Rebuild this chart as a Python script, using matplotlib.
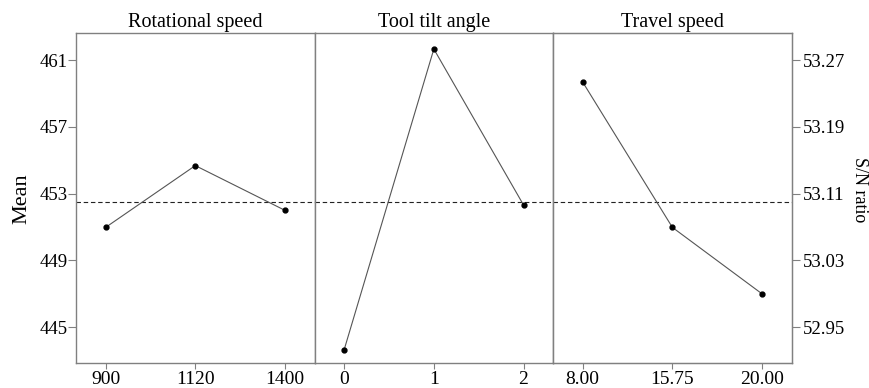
import matplotlib
matplotlib.use("Agg")
import matplotlib.pyplot as plt

# Main effects for means
factors = ["Rotational speed", "Tool tilt angle", "Travel speed"]
levels = [
    ["900", "1120", "1400"],
    ["0", "1", "2"],
    ["8.00", "15.75", "20.00"],
]
means = [
    [450.98, 454.68, 452.00],
    [443.66, 461.66, 452.32],
    [459.68, 450.98, 447.00],
]
grand_mean = 452.52

mean_ticks = [445, 449, 453, 457, 461]
sn_ticks = [52.95, 53.03, 53.11, 53.19, 53.27]

plt.rcParams["font.family"] = ["Liberation Serif", "DejaVu Serif"]

fig, axes = plt.subplots(1, 3, figsize=(8.69, 3.88), dpi=100, sharey=True)
fig.subplots_adjust(left=0.0875, right=0.911, top=0.9137, bottom=0.0644, wspace=0)

ylo, yhi = 442.86, 462.59
spine_col = "#808080"

# S/N ratio scale on the right side (twinx resets left ticks, so do it first)
ax2 = axes[2].twinx()

for i, ax in enumerate(axes):
    x = range(len(levels[i]))
    ax.plot(x, means[i], color="#555555", lw=0.8, marker="o", ms=3.5,
            mfc="black", mec="black", zorder=3)
    ax.axhline(grand_mean, color="#222222", lw=0.8, ls=(0, (4, 2.5)))
    ax.set_xlim(-0.33, 2.33)
    ax.set_ylim(ylo, yhi)
    ax.set_xticks(list(x))
    ax.set_xticklabels(levels[i])
    ax.set_title(factors[i], fontsize=14.5, pad=5)
    for s in ax.spines.values():
        s.set_color(spine_col)
        s.set_linewidth(1.0)
    ax.tick_params(axis="x", length=4.5, color=spine_col, labelsize=14, pad=1.5)
    if i == 0:
        ax.set_yticks(mean_ticks)
        ax.tick_params(axis="y", length=5.5, color=spine_col, labelsize=13.5, pad=0.5)
        ax.set_ylabel("Mean", fontsize=16, labelpad=6)
    else:
        ax.tick_params(axis="y", left=False, right=False,
                       labelleft=False, labelright=False)

ax2.set_ylim(53.27 + (ylo - 461) * 0.02, 53.27 + (yhi - 461) * 0.02)
ax2.set_yticks(sn_ticks)
ax2.set_yticklabels([f"{v:.2f}" for v in sn_ticks])
ax2.tick_params(axis="y", length=6, color=spine_col, labelsize=13.5, pad=2)
for s in ax2.spines.values():
    s.set_color(spine_col)
fig.text(0.9885, 0.51, "S/N ratio", fontsize=13, rotation=270,
         ha="center", va="center")

fig.savefig("out.png", dpi=100)
